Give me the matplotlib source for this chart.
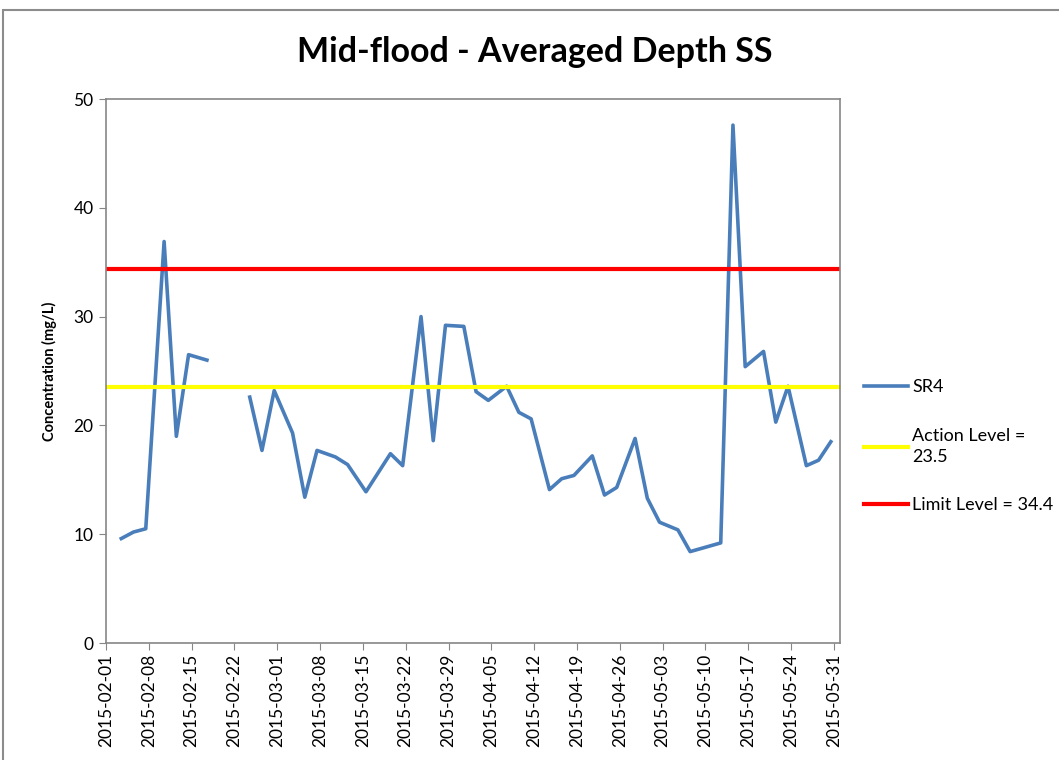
import pandas as pd
import numpy as np
import matplotlib.pyplot as plt
import matplotlib.dates as mdates
from matplotlib.patches import Rectangle

plt.rcParams['font.family'] = ['Lato', 'DejaVu Sans']

# sampling dates and SR4 concentrations (mg/L), NaN = no sample
dates = ['2015-02-03', '2015-02-05', '2015-02-07', '2015-02-10', '2015-02-12',
         '2015-02-14', '2015-02-17', '2015-02-19', '2015-02-21', '2015-02-24',
         '2015-02-26', '2015-02-28', '2015-03-03', '2015-03-05', '2015-03-07',
         '2015-03-10', '2015-03-12', '2015-03-15', '2015-03-19', '2015-03-21',
         '2015-03-24', '2015-03-26', '2015-03-28', '2015-03-31', '2015-04-02',
         '2015-04-04', '2015-04-07', '2015-04-09', '2015-04-11', '2015-04-14',
         '2015-04-16', '2015-04-18', '2015-04-21', '2015-04-23', '2015-04-25',
         '2015-04-28', '2015-04-30', '2015-05-02', '2015-05-05', '2015-05-07',
         '2015-05-12', '2015-05-14', '2015-05-16', '2015-05-19', '2015-05-21',
         '2015-05-23', '2015-05-26', '2015-05-28', '2015-05-30']
sr4 = [9.6, 10.2, 10.5, 36.9, 19.0, 26.5, 26.0, np.nan, np.nan, 22.6,
       17.7, 23.2, 19.3, 13.4, 17.7, 17.1, 16.4, 13.9, 17.4, 16.3,
       30.0, 18.6, 29.2, 29.1, 23.1, 22.3, 23.6, 21.2, 20.6, 14.1,
       15.1, 15.4, 17.2, 13.6, 14.3, 18.8, 13.3, 11.1, 10.4, 8.4,
       9.2, 47.6, 25.4, 26.8, 20.3, 23.6, 16.3, 16.8, 18.5]
action_level = 23.5
limit_level = 34.4

df = pd.DataFrame({'date': pd.to_datetime(dates), 'SR4': sr4})
# Excel date axis puts each point in the middle of its day
x = df['date'] + pd.Timedelta(hours=12)

fig = plt.figure(figsize=(10.59, 7.6), dpi=100)
fig.patches.append(Rectangle((3 / 1059, -0.1), 1.2, 1.1 - 10 / 760, transform=fig.transFigure,
                             fill=False, edgecolor='#8c8c8c', linewidth=1.5))
ax = fig.add_axes([106 / 1059, 1 - 643 / 760, (840 - 106) / 1059, (643 - 99) / 760])

ax.plot(x, df['SR4'], color='#4a7ebb', lw=2.6, label='SR4')
ax.axhline(action_level, color='#ffff00', lw=3, label='Action Level =\n23.5')
ax.axhline(limit_level, color='#ff0000', lw=3, label='Limit Level = 34.4')

ax.set_xlim(pd.Timestamp('2015-02-01'), pd.Timestamp('2015-06-01'))
ax.set_ylim(0, 50)
ax.set_yticks(range(0, 51, 10))
ax.set_xticks(pd.date_range('2015-02-01', '2015-05-31', freq='7D'))
ax.xaxis.set_major_formatter(mdates.DateFormatter('%Y-%m-%d'))
ax.tick_params(axis='x', labelrotation=90, labelsize=12.5, length=5, color='#868686', pad=3)
ax.tick_params(axis='y', labelsize=12.5, length=5, color='#868686', pad=4)
for s in ax.spines.values():
    s.set_color('#868686')
    s.set_linewidth(1.2)

ax.set_ylabel('Concentration (mg/L)', fontsize=10.5, fontweight='bold', labelpad=12)
fig.text(0.505, 1 - 52 / 760, 'Mid-flood - Averaged Depth SS', ha='center', va='center',
         fontsize=24.5, fontweight='bold')

leg = ax.legend(loc='upper left', bbox_to_anchor=(857 / 1059, 1 - 372 / 760),
                bbox_transform=fig.transFigure, frameon=False, fontsize=13,
                handlelength=2.4, handletextpad=0.25, labelspacing=1.8, borderaxespad=0)
for t in leg.get_texts():
    t.set_linespacing(1.4)

fig.savefig('out.png', dpi=100)
